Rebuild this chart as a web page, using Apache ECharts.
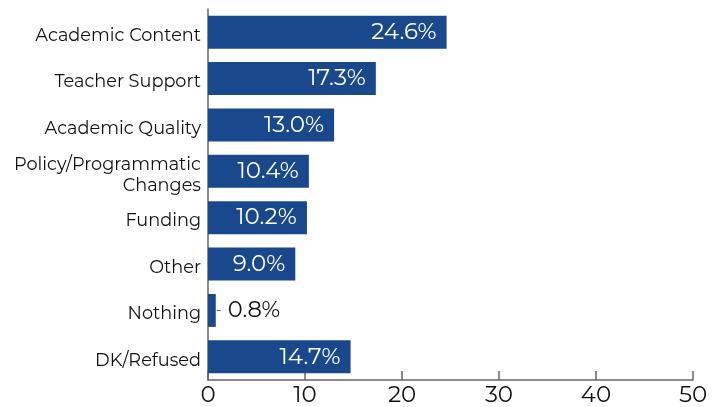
<!DOCTYPE html>
<html>
<head>
<meta charset="utf-8">
<script src="https://cdn.jsdelivr.net/npm/echarts@6/dist/echarts.min.js"></script>
<style>
  html, body { margin: 0; padding: 0; background: #fff; }
  #chart { width: 722px; height: 407px; }
</style>
</head>
<body>
<div id="chart"></div>
<script>
// Categories listed top to bottom
const categories = [
  'Academic Content',
  'Teacher Support',
  'Academic Quality',
  'Policy/Programmatic\nChanges',
  'Funding',
  'Other',
  'Nothing',
  'DK/Refused'
];
const values = [24.6, 17.3, 13.0, 10.4, 10.2, 9.0, 0.8, 14.7];
const xTicks = { min: 0, max: 50, interval: 10 };

const barColor = '#1a488d';
const fontFamily = "'Montserrat', 'Open Sans', 'Noto Sans', sans-serif";

// Short bars get their label outside, with a small leader dash
const seriesData = values.map(v => {
  if (v < 3) {
    return {
      value: v,
      label: {
        position: 'right',
        distance: 1,
        color: '#111',
        formatter: p => '{d|}{v|' + p.value.toFixed(1) + '%}',
        rich: {
          d: { width: 4, height: 1, backgroundColor: '#666', align: 'left' },
          v: { fontSize: 22.5, color: '#111', fontFamily: fontFamily, padding: [0, 0, 0, 7] }
        }
      }
    };
  }
  return v;
});

const chart = echarts.init(document.getElementById('chart'), null, { renderer: 'canvas' });
chart.setOption({
  animation: false,
  grid: { left: 208, right: 29, top: 9, bottom: 26, containLabel: false },
  xAxis: {
    type: 'value',
    min: xTicks.min,
    max: xTicks.max,
    interval: xTicks.interval,
    splitLine: { show: false },
    axisLine: { show: true, lineStyle: { color: '#666', width: 1.5 } },
    axisTick: { show: true, inside: true, length: 9, lineStyle: { color: '#666', width: 1.5 } },
    axisLabel: { color: '#111', fontSize: 23, fontFamily: fontFamily, margin: 4 }
  },
  yAxis: {
    type: 'category',
    inverse: true,
    data: categories,
    axisLine: { show: true, lineStyle: { color: '#666', width: 1.5 } },
    axisTick: { show: false },
    axisLabel: {
      margin: 7,
      align: 'right',
      // each line sits a little below the band centre
      formatter: v => v.split('\n').map(s => '{c|' + s + '}').join('\n'),
      rich: {
        c: {
          color: '#111', fontSize: 17.7, fontFamily: fontFamily,
          lineHeight: 21, align: 'right', padding: [7, 0, 0, 0]
        }
      }
    }
  },
  series: [{
    type: 'bar',
    data: seriesData,
    barCategoryGap: '29%',
    itemStyle: { color: barColor },
    label: {
      show: true,
      position: 'insideRight',
      distance: 10,
      color: '#fff',
      fontSize: 23,
      fontFamily: fontFamily,
      formatter: p => p.value.toFixed(1) + '%'
    }
  }]
});
</script>
</body>
</html>
